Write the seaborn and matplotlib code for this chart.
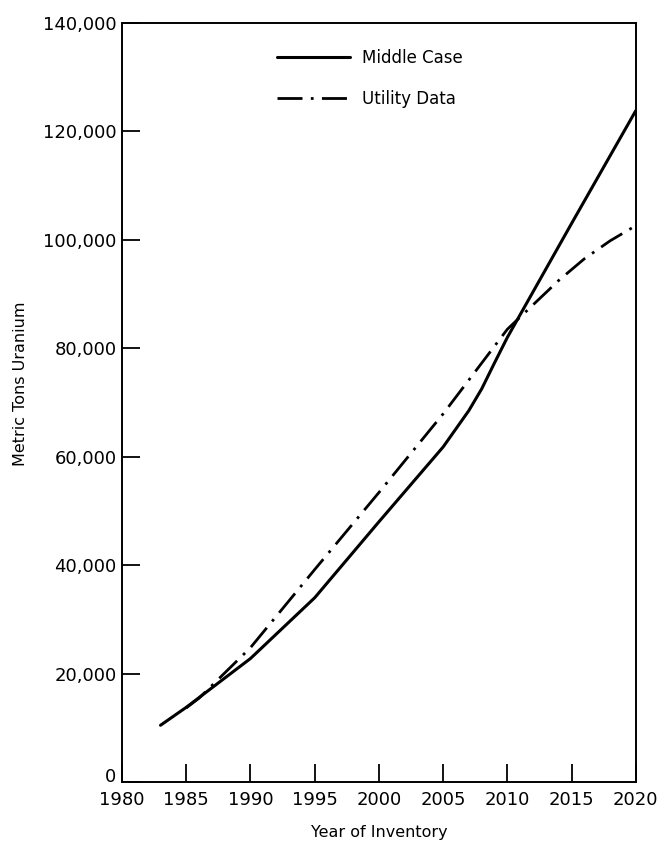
import numpy as np
import pandas as pd
import matplotlib

matplotlib.use('Agg')
import matplotlib.pyplot as plt
import seaborn as sns

# values (metric tons of uranium)
middle_years = [1983, 1985, 1990, 1995, 2000, 2005, 2007, 2008, 2009, 2010, 2015, 2020]
middle_vals = [10500, 13800, 22800, 34000, 48000, 61800, 68500, 72500, 77300, 82000, 103000, 123800]

utility_years = [1985, 1986, 1990, 1995, 2000, 2005, 2010, 2012, 2014, 2016, 2018, 2020]
utility_vals = [13700, 15500, 24800, 39200, 53400, 67900, 83500, 88000, 92500, 96500, 99800, 102600]

xticks = list(range(1980, 2021, 5))
yticks = list(range(0, 140001, 20000))

df_mid = pd.DataFrame({'year': middle_years, 'tons': middle_vals})
df_util = pd.DataFrame({'year': utility_years, 'tons': utility_vals})

sns.set_style("ticks")
plt.rcParams['font.family'] = ['DejaVu Sans']
plt.rcParams['text.color'] = 'k'
plt.rcParams['axes.labelcolor'] = 'k'
plt.rcParams['xtick.color'] = 'k'
plt.rcParams['ytick.color'] = 'k'

fig = plt.figure(figsize=[6.63, 8.42], dpi=100)
ax = fig.add_axes([0.184, 0.071, 0.775, 0.902])

sns.lineplot(data=df_mid, x='year', y='tons', ax=ax, color='k', lw=2.2,
             label='Middle Case')
sns.lineplot(data=df_util, x='year', y='tons', ax=ax, color='k', lw=2.0,
             dashes=False, label='Utility Data')
ax.lines[1].set_dashes((9, 3, 1, 3))

ax.set_xlim(1980, 2020)
ax.set_ylim(0, 140000)
ax.set_xticks(xticks)
ax.set_yticks(yticks)
ax.set_xticklabels([str(t) for t in xticks], fontsize=13)
ax.set_yticklabels(['0'] + ['{:,}'.format(t) for t in yticks[1:]], fontsize=13)
ax.get_yticklabels()[0].set_va('baseline')
ax.tick_params(direction='in', length=13, width=1.3, colors='k')
ax.tick_params(axis='x', pad=6)
ax.tick_params(axis='y', pad=4)

for sp in ax.spines.values():
    sp.set_visible(True)
    sp.set_color('k')
    sp.set_linewidth(1.4)

ax.set_xlabel('Year of Inventory', fontsize=11.5)
ax.set_ylabel('Metric Tons Uranium', fontsize=11.5)
ax.xaxis.set_label_coords(0.5, -0.056)
ax.yaxis.set_label_coords(-0.183, 0.525)

plt.legend(loc='upper center', bbox_to_anchor=(0.482, 0.985), frameon=False,
           fontsize=12, handlelength=4.4, handletextpad=0.7, labelspacing=1.35)

fig.savefig('out.png', dpi=100, facecolor='white')
